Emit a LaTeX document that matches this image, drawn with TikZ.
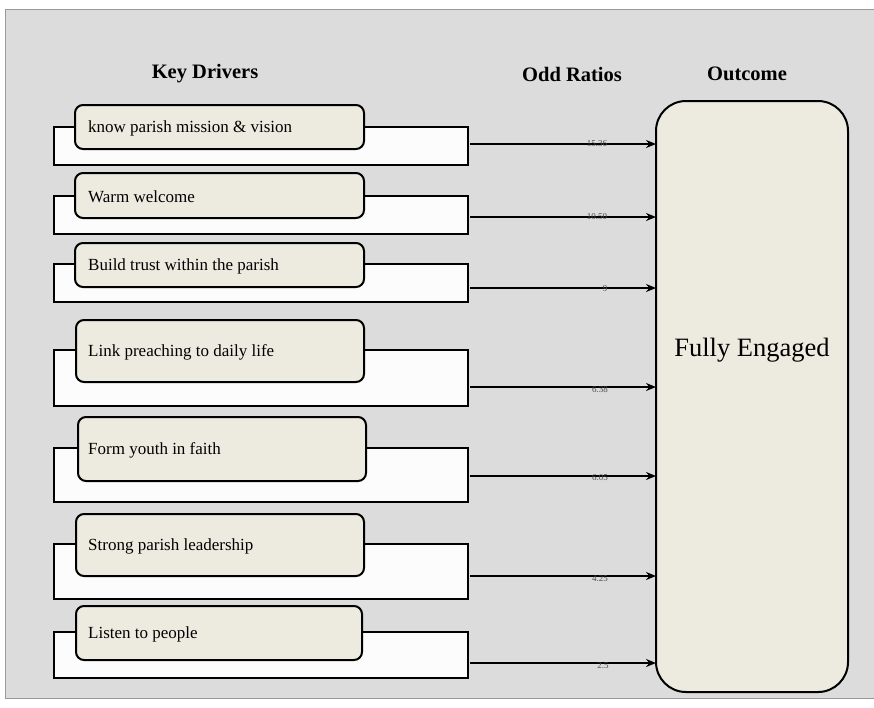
\documentclass[tikz,border=0pt]{standalone}
\usepackage{fontspec}
\setmainfont{Liberation Serif}
\usetikzlibrary{arrows.meta}
\definecolor{panel}{HTML}{DCDCDC}
\definecolor{beige}{HTML}{EDEBE0}
\definecolor{paper}{HTML}{FCFCFC}
\tikzset{
  backrect/.style={draw=black, line width=1.5pt, fill=paper},
  driverbox/.style={draw=black, line width=2pt, fill=beige, rounded corners=8pt},
  drivertext/.style={font=\fontsize{17}{19}\selectfont, anchor=west, inner sep=0pt},
  header/.style={font=\bfseries\fontsize{20.5}{24}\selectfont},
  link/.style={-{Stealth[length=10pt,width=8pt]}, line width=1.8pt},
  ratio/.style={font=\fontsize{9}{10}\selectfont, text=black!70, inner sep=0pt}
}
\begin{document}
\begin{tikzpicture}[x=1pt,y=-1pt]
\useasboundingbox (0,0) rectangle (874,707);
\fill[white] (0,0) rectangle (874,707);
\draw[fill=panel, draw=black!40, line width=0.8pt] (5,9) rectangle (880,698);

\node[header] (h1) at (205,74) {Key Drivers};
\node[header] (h2) at (572,74) {Odd Ratios};
\node[header] (h3) at (747,74) {Outcome};

% outcome
\draw[draw=black, line width=2pt, fill=beige, rounded corners=30pt] (656,101) rectangle (848,692);
\node (out) at (752,350) [font=\fontsize{26.5}{30}\selectfont] {Fully Engaged};
\coordinate (outw) at (656,350);

% drivers: back rect, rounded box, text
\newcommand{\driverrow}[9]{%
  \draw[backrect] (54,#2) rectangle (468,#3) coordinate (w#1);
  \node[draw=none, inner sep=0pt, minimum size=0pt] (r#1) at (468,{(#2+#3)/2}) {};
  \draw[driverbox] (#7,#4) rectangle (#8,#5);
  \node[drivertext] (t#1) at (88,{(#4+#5)/2+1}) {#9};
  \coordinate (a#1) at (470,#6);
  \draw[link] (a#1) -- (outw |- a#1);
}
\driverrow{1}{127}{165}{105}{149}{144}{75}{364}{know parish mission \& vision}
\driverrow{2}{196}{234}{173}{218}{217}{75}{364}{Warm welcome}
\driverrow{3}{264}{302}{243}{287}{288}{75}{364}{Build trust within the parish}
\driverrow{4}{350}{406}{320}{382}{387}{76}{364}{Link preaching to daily life}
\driverrow{5}{448}{502}{417}{481}{476}{78}{366}{Form youth in faith}
\driverrow{6}{544}{599}{514}{576}{576}{76}{364}{Strong parish leadership}
\driverrow{7}{632}{678}{606}{660}{663}{76}{362}{Listen to people}

\node[ratio] (o1) at (597,144) {15.36};
\node[ratio] (o2) at (597,217) {10.50};
\node[ratio] (o3) at (605,289) {9};
\node[ratio] (o4) at (600,390) {6.38};
\node[ratio] (o5) at (600,478) {6.05};
\node[ratio] (o6) at (600,579) {4.25};
\node[ratio] (o7) at (603,666) {2.5};
\end{tikzpicture}
\end{document}
